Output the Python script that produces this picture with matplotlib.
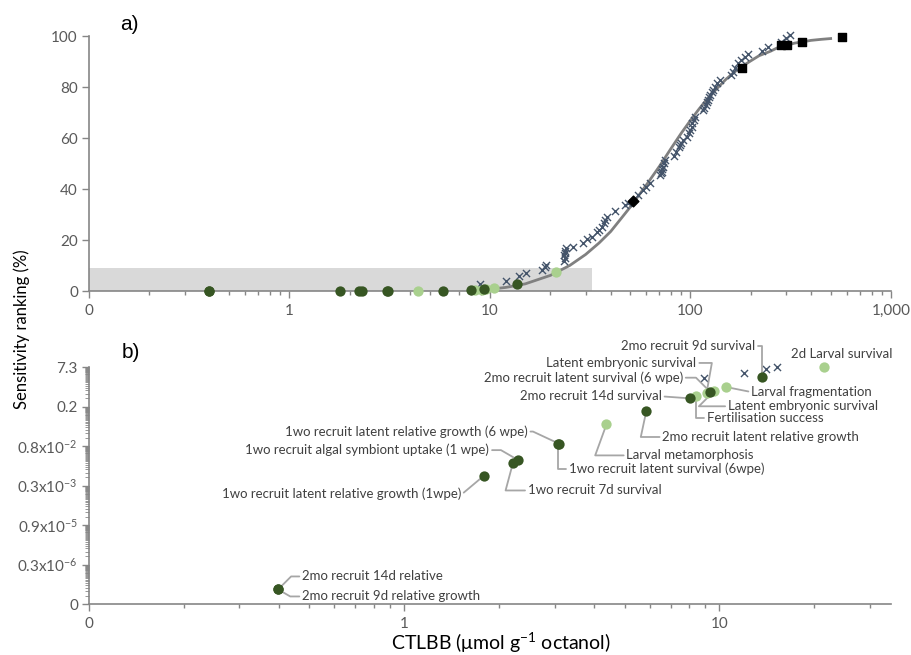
import matplotlib
matplotlib.use("Agg")
import matplotlib.pyplot as plt
from matplotlib.ticker import FixedLocator, FixedFormatter, NullFormatter

plt.rcParams['font.family'] = ['Lato', 'DejaVu Sans']
plt.rcParams['mathtext.default'] = 'regular'

# ---------------- data ----------------
# Coral endpoints: CTLBB (umol/g octanol) and sensitivity rank (%)
coral_labels = [
    "2mo recruit 14d relative",
    "2mo recruit 9d relative growth",
    "1wo recruit latent relative growth (1wpe)",
    "1wo recruit 7d survival",
    "1wo recruit algal symbiont uptake (1 wpe)",
    "1wo recruit latent relative growth (6 wpe)",
    "1wo recruit latent survival (6wpe)",
    "Larval metamorphosis",
    "2mo recruit latent relative growth",
    "2mo recruit 14d survival",
    "Fertilisation success",
    "Latent embryonic survival",
    "2mo recruit latent survival (6 wpe)",
    "Latent embryonic survival",
    "Larval fragmentation",
    "2mo recruit 9d survival",
    "2d Larval survival",
]
coral_ctlbb = [0.398, 0.398, 1.79, 2.21, 2.30, 3.09, 3.07, 4.38, 5.86, 8.05,
               8.4, 9.1, 9.33, 9.6, 10.5, 13.6, 21.4]
coral_rank = [3.5e-8, 3.5e-8, 6.3e-4, 1.8e-3, 2.4e-3, 1.0e-2, 1.0e-2, 5.2e-2,
              0.165, 0.49, 0.60, 0.78, 0.87, 0.90, 1.3, 3.0, 7.5]
# True = recruit endpoint (dark), False = early life stage (light)
coral_recruit = [True, True, True, True, True, True, True, False, True, True,
                 False, False, True, False, False, True, False]

# Other species
other_ctlbb = [8.9, 12.0, 14.0, 15.2, 18.1, 18.7, 19.1,
               23.4, 23.6, 23.5, 23.7, 23.6, 23.8,
               25.9, 29.2, 30.4, 32.1, 34.1, 34.8, 36.1, 36.9, 37.6, 38.5,
               41.9, 47.0, 48.9, 55.0, 58.0, 60.3, 62.5,
               70.8, 71.2, 71.8, 72.3, 72.9, 73.5, 74.3,
               82.4, 85.1, 87.6, 89.0, 90.0, 91.6,
               96.2, 98.4, 100, 101.2, 102.3, 103.8, 105.4,
               115.6, 117, 119.1, 121, 122.4, 124, 125.8, 128, 129.7, 132.2,
               134.9, 140,
               160, 163, 166, 173, 179, 186, 194,
               228.5, 243, 284, 300, 312]
other_rank = [2.9, 4.2, 6.2, 7.4, 8.4, 9.7, 10.4,
              12.0, 13.0, 14.1, 15.0, 16.0, 17.0,
              17.6, 18.9, 20.4, 21.4, 23.4, 24.1, 25.4, 26.7, 28.0, 29.3,
              31.6, 33.9, 34.5, 37.8, 39.7, 41.0, 42.6,
              45.6, 46.3, 46.9, 47.8, 48.8, 50.2, 51.5,
              53.0, 54.7, 56.7, 57.3, 58.0, 59.3,
              60.6, 61.9, 63.2, 64.5, 65.8, 67.1, 68.4,
              71.0, 72.0, 73.0, 74.0, 75.0, 76.0, 76.9, 78.0, 78.9, 80.2,
              81.5, 82.8,
              84.7, 86.0, 87.4, 89.3, 90.6, 91.9, 93.0,
              94.2, 95.8, 97.8, 99.1, 100.4]

square_ctlbb = [180.7, 284, 302, 360, 569]
square_rank = [87.4, 96.5, 96.5, 97.5, 99.5]
diamond_ctlbb = [51.5]
diamond_rank = [35.4]

# Fitted species sensitivity distribution
ssd_ctlbb = [8.5, 10, 12, 15, 20, 25, 30, 35, 40, 45, 50, 60, 70, 80, 90, 100,
             110, 120, 135, 150, 165, 180, 200, 220, 250, 270, 300, 330, 400,
             450, 500]
ssd_rank = [0.5, 0.9, 1.6, 3.0, 6.3, 10.2, 14.5, 19.0, 23.5, 28.5, 33, 41.5,
            49, 56, 62, 67, 71.3, 75, 79.3, 83, 85.8, 88, 90.3, 92.3, 94.0,
            95.3, 96.3, 97.2, 98.3, 98.7, 99.0]

# Region enlarged in panel b
zoom_ctlbb_max = 32.3
zoom_rank_max = 9.3

top_xticks = [0.1, 1, 10, 100, 1000]
top_xlabels = ["0", "1", "10", "100", "1,000"]
top_yticks = [0, 20, 40, 60, 80, 100]
bot_xticks = [0.1, 1, 10]
bot_xlabels = ["0", "1", "10"]
bot_yticks = [1e-8, 3e-7, 9e-6, 2.7e-4, 8.1e-3, 0.243, 7.29]
bot_ylabels = ["0", "0.3x10$^{-6}$", "0.9x10$^{-5}$", "0.3x10$^{-3}$",
               "0.8x10$^{-2}$", "0.2", "7.3"]

# ---------------- styles ----------------
DARK = "#375623"
LIGHT = "#A9D08E"
CROSS = "#44546A"
AXIS = "#868686"
TICKTXT = "#595959"
LEADER = "#A6A6A6"
LABTXT = "#404040"

# label placement (offset in pixels from point, alignment, connector)
label_layout = [
    (24, 13, "left", "angle,angleA=0,angleB=45,rad=0"),
    (24, -7, "left", "angle,angleA=0,angleB=-30,rad=0"),
    (-23, -18, "right", "angle,angleA=0,angleB=40,rad=0"),
    (15, -27, "left", "angle,angleA=0,angleB=75,rad=0"),
    (-29, 10, "right", "angle,angleA=0,angleB=150,rad=0"),
    (-31, 12, "right", "angle,angleA=0,angleB=155,rad=0"),
    (11, -25, "left", "angle,angleA=0,angleB=90,rad=0"),
    (20, -31, "left", "angle,angleA=0,angleB=70,rad=0"),
    (16, -26, "left", "angle,angleA=0,angleB=78,rad=0"),
    (-28, 2, "right", "arc3,rad=0"),
    (11, -22, "left", "angle,angleA=0,angleB=90,rad=0"),
    (-10, 30, "right", "angle,angleA=0,angleB=80,rad=0"),
    (-27, 14, "right", "angle,angleA=0,angleB=135,rad=0"),
    (14, -15, "left", "angle,angleA=0,angleB=45,rad=0"),
    (25, -5, "left", "arc3,rad=0"),
    (-6, 31, "right", "angle,angleA=0,angleB=90,rad=0"),
    (18, 13, "center", None),
]

W, H = 912, 655
fig = plt.figure(figsize=(W / 100, H / 100), dpi=100)
ax1 = fig.add_axes([89 / W, 1 - 291.5 / H, 802 / W, 255.5 / H])
ax2 = fig.add_axes([89 / W, 1 - 604 / H, 802 / W, 237 / H])


def style_axes(ax):
    for s in ("top", "right"):
        ax.spines[s].set_visible(False)
    for s in ("left", "bottom"):
        ax.spines[s].set_color(AXIS)
        ax.spines[s].set_linewidth(1.2)
    ax.tick_params(which="both", direction="out", color=AXIS, width=1,
                   labelcolor=TICKTXT, labelsize=11, pad=3)
    ax.tick_params(which="major", length=5)
    ax.tick_params(which="minor", length=3)
    ax.set_facecolor("none")


dark_idx = [i for i, r in enumerate(coral_recruit) if r]
light_idx = [i for i, r in enumerate(coral_recruit) if not r]

# ---------------- panel a ----------------
ax1.set_xscale("log")
ax1.set_xlim(0.1, 1000)
ax1.set_ylim(0, 100)
ax1.fill_between([0.1, zoom_ctlbb_max], 0, zoom_rank_max, color="#D9D9D9",
                 lw=0, zorder=0)
ax1.plot(ssd_ctlbb, ssd_rank, color="#808080", lw=2, zorder=2)
ax1.scatter(other_ctlbb, other_rank, marker="x", s=26, color=CROSS,
            linewidths=1, zorder=3, clip_on=False)
ax1.scatter(square_ctlbb, square_rank, marker="s", s=26, color="black",
            zorder=4, clip_on=False)
ax1.scatter(diamond_ctlbb, diamond_rank, marker="D", s=30, color="black",
            zorder=4, clip_on=False)
ax1.scatter([coral_ctlbb[i] for i in light_idx], [coral_rank[i] for i in light_idx],
            s=55, color=LIGHT, lw=0, zorder=5, clip_on=False)
ax1.scatter([coral_ctlbb[i] for i in dark_idx], [coral_rank[i] for i in dark_idx],
            s=55, color=DARK, lw=0, zorder=6, clip_on=False)
style_axes(ax1)
ax1.xaxis.set_major_locator(FixedLocator(top_xticks))
ax1.xaxis.set_major_formatter(FixedFormatter(top_xlabels))
ax1.xaxis.set_minor_locator(FixedLocator(
    [m * d for d in (0.1, 1, 10, 100) for m in range(2, 10)]))
ax1.xaxis.set_minor_formatter(NullFormatter())
ax1.set_yticks(top_yticks)
ax1.tick_params(axis="x", pad=4)

# ---------------- panel b ----------------
ax2.set_xscale("log")
ax2.set_yscale("log", base=30)
ax2.set_xlim(0.1, 35)
ax2.set_ylim(bot_yticks[0], bot_yticks[-1])
sel = [i for i in range(len(other_ctlbb))
       if other_rank[i] <= 8 and other_ctlbb[i] <= 35]
ax2.scatter([other_ctlbb[i] for i in sel], [other_rank[i] for i in sel],
            marker="x", s=26, color=CROSS, linewidths=1, zorder=3, clip_on=False)
ax2.scatter([coral_ctlbb[i] for i in light_idx], [coral_rank[i] for i in light_idx],
            s=55, color=LIGHT, lw=0, zorder=5, clip_on=False)
ax2.scatter([coral_ctlbb[i] for i in dark_idx], [coral_rank[i] for i in dark_idx],
            s=55, color=DARK, lw=0, zorder=6, clip_on=False)

for i, txt in enumerate(coral_labels):
    dx, dy, ha, conn = label_layout[i]
    kw = dict(xy=(coral_ctlbb[i], coral_rank[i]), xytext=(dx, dy),
              textcoords="offset pixels", ha=ha, va="center", fontsize=9.5,
              color=LABTXT, zorder=4, annotation_clip=False)
    if conn is not None:
        kw["arrowprops"] = dict(arrowstyle="-", color=LEADER, lw=1.3,
                                shrinkA=0, shrinkB=0,
                                relpos=(1, 0.5) if ha == "right" else (0, 0.5),
                                connectionstyle=conn)
    ax2.annotate(txt, **kw)

style_axes(ax2)
ax2.xaxis.set_major_locator(FixedLocator(bot_xticks))
ax2.xaxis.set_major_formatter(FixedFormatter(bot_xlabels))
ax2.xaxis.set_minor_locator(FixedLocator(
    [m * d for d in (0.1, 1) for m in range(2, 10)] + [20, 30]))
ax2.xaxis.set_minor_formatter(NullFormatter())
ax2.tick_params(axis="x", pad=4)
ax2.yaxis.set_major_locator(FixedLocator(bot_yticks))
ax2.yaxis.set_major_formatter(FixedFormatter(bot_ylabels))
ax2.yaxis.set_minor_locator(FixedLocator(
    [m * t for t in bot_yticks[:-1] for m in range(2, 30)]))
ax2.yaxis.set_minor_formatter(NullFormatter())
ax2.tick_params(axis="y", which="minor", length=3, width=0.6)

# ---------------- labels ----------------
fig.text(129 / W, 1 - 24 / H, "a)", fontsize=15, family="Liberation Sans",
         ha="center", va="center")
fig.text(131 / W, 1 - 353 / H, "b)", fontsize=15, family="Liberation Sans",
         ha="center", va="center")
fig.text(22 / W, 1 - 329 / H, "Sensitivity ranking (%)", rotation=90,
         fontsize=12, ha="center", va="center")
fig.text(501 / W, 1 - 643 / H, "CTLBB (μmol g$^{-1}$ octanol)", fontsize=14,
         ha="center", va="center")

fig.savefig("out.png", dpi=100)
